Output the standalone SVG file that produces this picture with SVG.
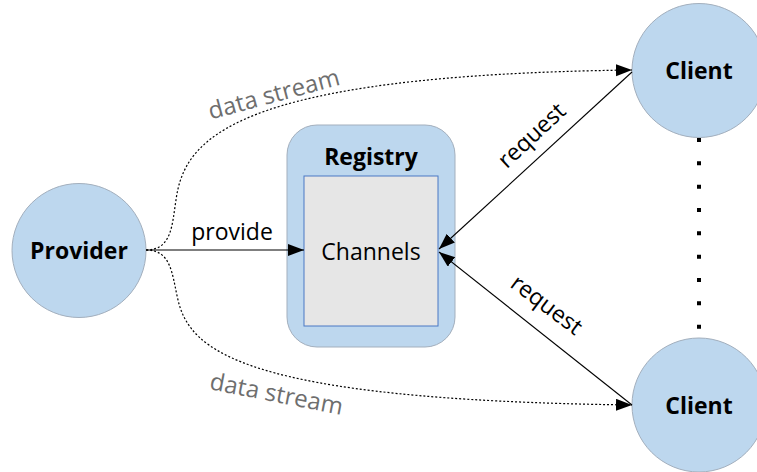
<svg xmlns="http://www.w3.org/2000/svg" width="757" height="472" viewBox="0 0 757 472">
  <defs>
    <marker id="arrow" markerUnits="userSpaceOnUse" markerWidth="17" markerHeight="13" refX="16" refY="6" orient="auto">
      <path d="M0,0 L16,6 L0,12 z" fill="#000"/>
    </marker>
    <style>
      .node { fill: #bdd7ee; stroke: #a3afbd; stroke-width: 1; }
      .bold { font-family: "Open Sans", "Liberation Sans", sans-serif; font-weight: bold; font-size: 23px; fill: #000; text-anchor: middle; }
      .label { font-family: "Open Sans", "Liberation Sans", sans-serif; font-size: 23px; fill: #000; text-anchor: middle; }
      .stream { font-family: "Open Sans", "Liberation Sans", sans-serif; font-size: 24px; fill: #6e6e6e; text-anchor: middle; }
      .solid { fill: none; stroke: #000; stroke-width: 1.1; marker-end: url(#arrow); }
      .dotted { fill: none; stroke: #000; stroke-width: 1.2; stroke-dasharray: 2 2; marker-end: url(#arrow); }
    </style>
  </defs>

  <rect width="757" height="472" fill="#fff"/>

  <g id="provider">
    <circle class="node" cx="79" cy="250.5" r="67"/>
    <text class="bold" x="79" y="259">Provider</text>
  </g>

  <g id="registry">
    <rect x="287" y="125" width="168" height="222" rx="30" ry="30" fill="#bdd7ee" stroke="#a3afbd" stroke-width="1"/>
    <text class="bold" x="371" y="165">Registry</text>
    <g id="channels">
      <rect x="304" y="176" width="134" height="150" fill="#e6e6e6" stroke="#4a78c4" stroke-width="1"/>
      <text class="label" x="371" y="260">Channels</text>
    </g>
  </g>

  <g id="client-top">
    <circle class="node" cx="699" cy="70.5" r="67"/>
    <text class="bold" x="699" y="79">Client</text>
  </g>

  <g id="client-bottom">
    <circle class="node" cx="699" cy="405" r="67"/>
    <text class="bold" x="699" y="414">Client</text>
  </g>

  <!-- connectors -->
  <g id="connectors">
    <line class="solid" x1="146" y1="250" x2="304" y2="250"/>
    <line class="solid" x1="632" y1="72" x2="439" y2="249"/>
    <line class="solid" x1="632" y1="405" x2="439" y2="252"/>
    <path class="dotted" d="M146,250 C172,250 172,225 176,200 C184,140 230,75 632,70"/>
    <path class="dotted" d="M146,250 C172,250 172,275 178,300 C190,350 240,400 632,405"/>
    <!-- ellipsis between the two clients -->
    <line x1="699" y1="138" x2="699" y2="330" stroke="#000" stroke-width="4" stroke-dasharray="4 19.33"/>
  </g>

  <!-- connector labels -->
  <g id="labels">
    <text class="label" x="232" y="240">provide</text>
    <text class="label" transform="translate(537,141) rotate(-43)">request</text>
    <text class="label" transform="translate(542,311) rotate(37)">request</text>
    <text class="stream" transform="translate(276,102) rotate(-15)">data stream</text>
    <text class="stream" transform="translate(275,402) rotate(11)">data stream</text>
  </g>
</svg>
